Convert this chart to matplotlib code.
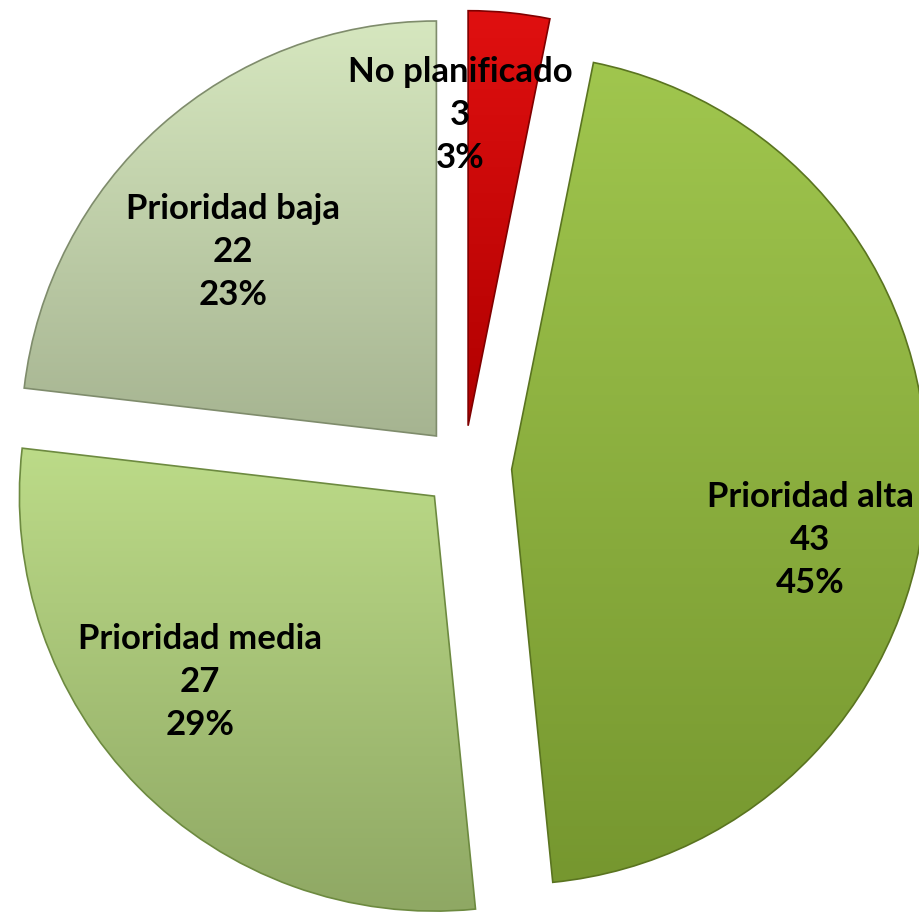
"""
Exploded pie of planned items by priority, Excel style gradient wedges.
"""

import matplotlib
matplotlib.use("Agg")
import matplotlib.pyplot as plt
import numpy as np
from matplotlib.colors import LinearSegmentedColormap

# Data
categories = ["No planificado", "Prioridad alta", "Prioridad media", "Prioridad baja"]
counts = [3, 43, 27, 22]
percent_labels = ["3%", "45%", "29%", "23%"]

# Style
explode = [0.10, 0.115, 0.10, 0.10]
top_colors = ["#e01010", "#a0c64e", "#bcdb88", "#d6e7bf"]
bottom_colors = ["#b00000", "#76972f", "#8fa864", "#a6b491"]
edge_colors = ["#800000", "#5a7420", "#6d8a40", "#7f8c6c"]
# label centres (middle line), image pixels
label_pos = [(460, 115), (810, 540), (200, 682), (233, 252)]

plt.rcParams['font.family'] = ['Lato', 'DejaVu Sans']

fig = plt.figure(figsize=(9.2, 9.2), dpi=100)
ax = fig.add_axes([0, 0, 1, 1])

R = 415.0
cx, cy = 464.0, 468.0

wedges, _ = ax.pie(counts, startangle=90, counterclock=False,
                   explode=explode, radius=1.0, center=(0, 0))

ax.set_aspect("equal")
ax.axis("off")

# Gradient fill for each wedge
grad = np.linspace(0, 1, 256).reshape(-1, 1)
for w, c1, c2, ec in zip(wedges, top_colors, bottom_colors, edge_colors):
    w.set_facecolor("none")
    w.set_edgecolor(ec)
    w.set_linewidth(1.2)
    w.set_zorder(3)
    x0, y0 = w.center
    r = w.r
    th = np.linspace(np.deg2rad(w.theta1), np.deg2rad(w.theta2), 100)
    xs = np.concatenate([[x0], x0 + r * np.cos(th)])
    ys = np.concatenate([[y0], y0 + r * np.sin(th)])
    cmap = LinearSegmentedColormap.from_list("g", [c1, c2])
    im = ax.imshow(grad, cmap=cmap, aspect="auto",
                   extent=[xs.min(), xs.max(), ys.min(), ys.max()],
                   origin="upper", zorder=2, interpolation="bicubic")
    im.set_clip_path(w)

ax.set_xlim((0 - cx) / R, (920 - cx) / R)
ax.set_ylim((cy - 920) / R, (cy - 0) / R)

for name, n, pct, (px, py) in zip(categories, counts, percent_labels, label_pos):
    ax.text((px - cx) / R, (cy - py) / R, f"{name}\n{n}\n{pct}",
            ha="center", va="center", fontsize=25, fontweight="bold",
            color="black", linespacing=1.43, zorder=5)

fig.savefig("out.png", dpi=100)
